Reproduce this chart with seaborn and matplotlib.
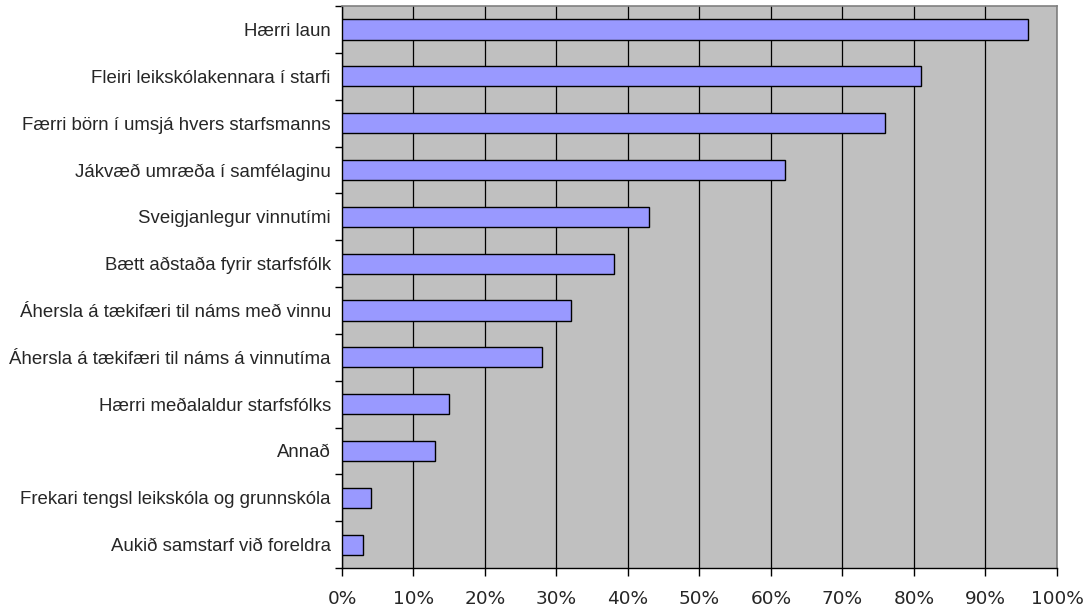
import matplotlib
matplotlib.use("Agg")
import matplotlib.pyplot as plt
import pandas as pd
import numpy as np
import seaborn as sns

# Data (percent of respondents)
categories = [
    "Hærri laun",
    "Fleiri leikskólakennara í starfi",
    "Færri börn í umsjá hvers starfsmanns",
    "Jákvæð umræða í samfélaginu",
    "Sveigjanlegur vinnutími",
    "Bætt aðstaða fyrir starfsfólk",
    "Áhersla á tækifæri til náms með vinnu",
    "Áhersla á tækifæri til náms á vinnutíma",
    "Hærri meðalaldur starfsfólks",
    "Annað",
    "Frekari tengsl leikskóla og grunnskóla",
    "Aukið samstarf við foreldra",
]
values = [96, 81, 76, 62, 43, 38, 32, 28, 15, 13, 4, 3]
xticks = list(range(0, 101, 10))

df = pd.DataFrame({"cat": categories, "val": values})

sns.set_style("white")
plt.rcParams["font.family"] = ["Liberation Sans", "DejaVu Sans"]

fig = plt.figure(figsize=(10.88, 6.11), dpi=100)
ax = fig.add_axes([0.3143, 0.0704, 0.6572, 0.9196])
ax.set_facecolor("#C0C0C0")

sns.barplot(data=df, x="val", y="cat", orient="h", color="#9999FF",
            edgecolor="black", linewidth=1.0, width=0.43, saturation=1, ax=ax, zorder=3)

ax.set_xlim(0, 100)
ax.set_ylim(len(categories) - 0.5, -0.5)
ax.set_xticks(xticks)
ax.set_xticklabels([f"{t}%" for t in xticks], family="DejaVu Sans", fontsize=13.3)
ax.xaxis.grid(True, color="black", linewidth=0.9, zorder=1)
ax.set_axisbelow(True)

# category labels sit between boundary ticks
ax.set_yticks(np.arange(len(categories)))
ax.set_yticklabels(categories, fontsize=13.4)
ax.set_yticks(np.arange(-0.5, len(categories), 1), minor=True)
ax.tick_params(axis="y", which="major", length=0, pad=8)
ax.tick_params(axis="y", which="minor", length=5, width=1, direction="out", color="black", left=True)
ax.tick_params(axis="x", which="major", length=6, width=1, direction="out", color="black", bottom=True, pad=10)

ax.set_xlabel("")
ax.set_ylabel("")
for s in ["left", "bottom"]:
    ax.spines[s].set_color("black")
    ax.spines[s].set_linewidth(1)
for s in ["top", "right"]:
    ax.spines[s].set_color("#808080")
    ax.spines[s].set_linewidth(1.2)

fig.savefig("out.png", dpi=100)
